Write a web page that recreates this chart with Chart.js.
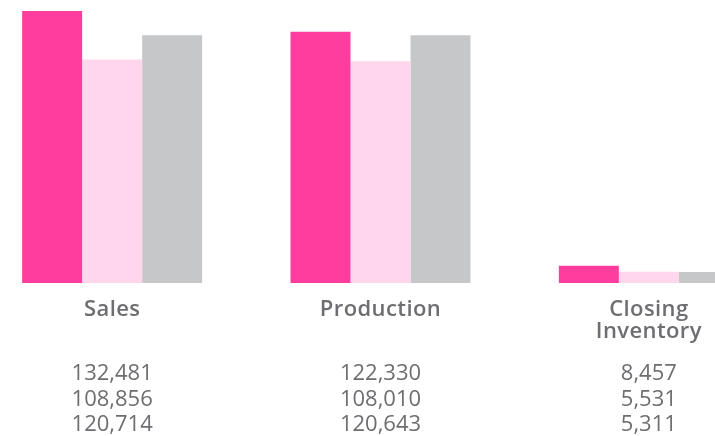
<!DOCTYPE html>
<html>
<head>
<meta charset="utf-8">
<script src="https://cdn.jsdelivr.net/npm/chart.js@4.4.0/dist/chart.umd.min.js"></script>
<style>
  html, body { margin: 0; padding: 0; background: #fff; overflow: hidden; }
  #wrap { position: relative; width: 715px; height: 436px; overflow: hidden; }
  #chart { position: absolute; left: -22px; top: 0; }
</style>
</head>
<body>
<div id="wrap"><canvas id="chart" width="805" height="436"></canvas></div>
<script>
// categories and the three series
const categories = ['Sales', 'Production', ['Closing', 'Inventory']];
const seriesA = [132481, 122330, 8457];
const seriesB = [108856, 108010, 5531];
const seriesC = [120714, 120643, 5311];
const seriesNames = ['Current', 'Prior', 'Plan'];
const seriesColors = ['#ff3d9e', '#ffd6ec', '#c6c7c9'];

const textGray = '#6d6e71';

// slightly looser letters, closer to the original typeface
const spacing = {
    id: 'spacing',
    beforeDraw(chart) {
        chart.ctx.letterSpacing = '0.4px';
    }
};

// prints the values of each series in rows under the category labels
const valueRows = {
    id: 'valueRows',
    afterDraw(chart) {
        const ctx = chart.ctx;
        const xScale = chart.scales.x;
        ctx.save();
        ctx.font = '22px "Open Sans"';
        ctx.letterSpacing = '0px';
        ctx.fillStyle = textGray;
        ctx.textAlign = 'center';
        ctx.textBaseline = 'middle';
        chart.data.datasets.forEach((ds, row) => {
            const y = 374 + row * 25.5;
            ds.data.forEach((v, i) => {
                ctx.fillText(v.toLocaleString('en-US'), xScale.getPixelForValue(i), y);
            });
        });
        ctx.restore();
    }
};

const datasets = [seriesA, seriesB, seriesC].map((data, i) => ({
    label: seriesNames[i],
    data: data,
    backgroundColor: seriesColors[i],
    borderWidth: 0,
    categoryPercentage: 0.6708,
    barPercentage: 1.0
}));

new Chart(document.getElementById('chart'), {
    type: 'bar',
    data: { labels: categories, datasets },
    options: {
        responsive: false,
        animation: false,
        layout: { padding: 0 },
        plugins: {
            legend: { display: false },
            tooltip: { enabled: false }
        },
        scales: {
            x: {
                grid: { display: false, drawTicks: false },
                border: { display: false },
                ticks: {
                    color: textGray,
                    padding: 16,
                    font: { family: '"Open Sans"', size: 22, weight: '600', lineHeight: 1.0 }
                },
                afterFit(scale) { scale.height = 153; }
            },
            y: {
                display: false,
                min: 0,
                max: 137840
            }
        }
    },
    plugins: [spacing, valueRows]
});
</script>
</body>
</html>
